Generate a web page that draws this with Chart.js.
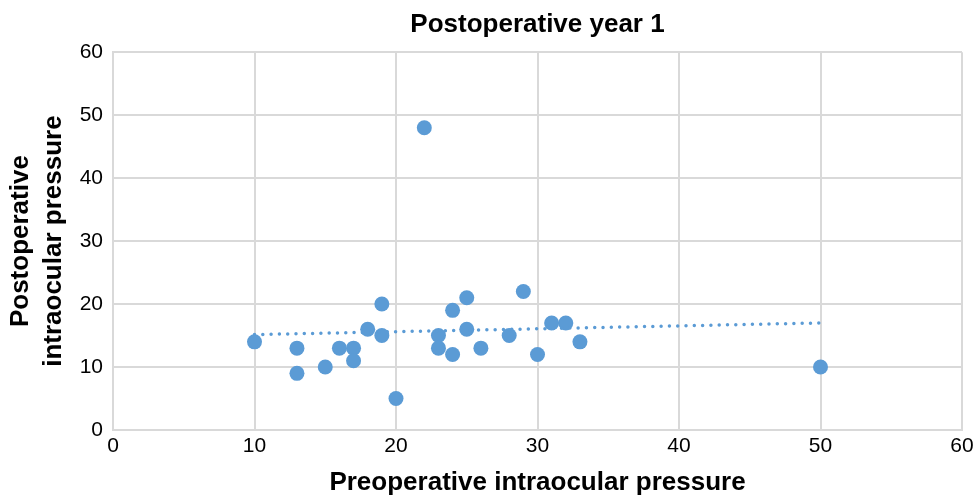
<!DOCTYPE html>
<html>
<head>
<meta charset="utf-8">
<script src="https://cdn.jsdelivr.net/npm/chart.js@4.4.1/dist/chart.umd.min.js"></script>
<style>
  html, body { margin: 0; padding: 0; background: #fff; }
  #wrap { width: 975px; height: 495px; position: relative; }
</style>
</head>
<body>
<div id="wrap"><canvas id="chart"></canvas></div>
<script>
const chartTitle = 'Postoperative year 1';
const xTitle = 'Preoperative intraocular pressure';
const yTitle = ['Postoperative', 'intraocular pressure'];

// preop / postop pressure pairs
const preop  = [10, 13, 13, 15, 16, 17, 17, 18, 19, 19, 20, 22, 23, 23, 24, 24, 25, 25, 26, 28, 29, 30, 31, 32, 33, 50];
const postop = [14, 13,  9, 10, 13, 13, 11, 16, 20, 15,  5, 48, 15, 13, 19, 12, 21, 16, 13, 15, 22, 12, 17, 17, 14, 10];

// linear trendline end points
const trendX = [10, 50];
const trendY = [15.15, 17.0];

const axisMin = 0, axisMax = 60, axisStep = 10;

const blue = '#5b9bd5';
const gridColor = '#d9d9d9';
const font = "'Liberation Sans', Arial, sans-serif";

const points = preop.map((x, i) => ({ x, y: postop[i] }));
const trend = trendX.map((x, i) => ({ x, y: trendY[i] }));

new Chart(document.getElementById('chart'), {
  type: 'scatter',
  data: {
    datasets: [
      {
        label: 'Postoperative year 1',
        data: points,
        backgroundColor: blue,
        borderColor: blue,
        borderWidth: 0,
        pointRadius: 7.5,
        pointHoverRadius: 7.5,
        order: 2
      },
      {
        type: 'line',
        label: 'Linear trend',
        data: trend,
        borderColor: blue,
        borderWidth: 3.5,
        borderDash: [0, 8.3],
        borderCapStyle: 'round',
        pointRadius: 0,
        fill: false,
        order: 1
      }
    ]
  },
  options: {
    responsive: true,
    maintainAspectRatio: false,
    animation: false,
    layout: { padding: { top: 0, right: 13, bottom: 0, left: 0 } },
    plugins: {
      legend: { display: false },
      tooltip: { enabled: false },
      title: {
        display: true,
        text: chartTitle,
        fullSize: false,
        color: '#000',
        font: { family: font, size: 26, weight: 'bold', lineHeight: 1.2 },
        padding: { top: 9, bottom: 12 }
      }
    },
    scales: {
      x: {
        type: 'linear',
        min: axisMin,
        max: axisMax,
        afterFit: s => { s.height = 65; s.paddingRight = 8; },
        ticks: { stepSize: axisStep, color: '#000', padding: 4, font: { family: font, size: 21 } },
        grid: { color: gridColor, lineWidth: 2, drawTicks: false },
        border: { color: gridColor, width: 2 },
        title: {
          display: true,
          text: xTitle,
          color: '#000',
          font: { family: font, size: 26, weight: 'bold', lineHeight: 0.92 },
          padding: { top: 0, bottom: 0 }
        }
      },
      y: {
        type: 'linear',
        min: axisMin,
        max: axisMax,
        afterFit: s => { s.width = 113; },
        ticks: { stepSize: axisStep, color: '#000', padding: 10, font: { family: font, size: 21 } },
        grid: { color: gridColor, lineWidth: 2, drawTicks: false },
        border: { color: gridColor, width: 2 },
        title: {
          display: true,
          text: yTitle,
          color: '#000',
          font: { family: font, size: 26, weight: 'bold', lineHeight: 1.25 },
          padding: { top: 5, bottom: 0 }
        }
      }
    }
  }
});
</script>
</body>
</html>
